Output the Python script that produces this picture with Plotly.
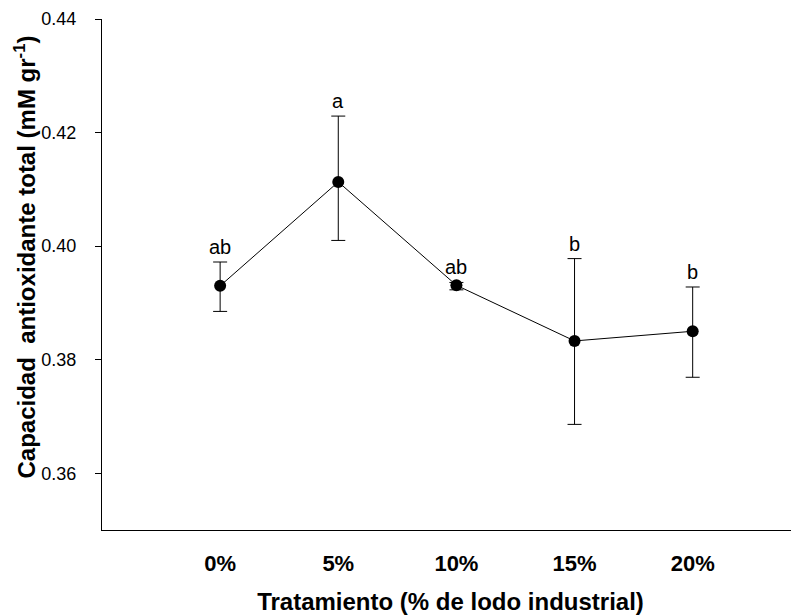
import plotly.graph_objects as go

categories = ["0%", "5%", "10%", "15%", "20%"]
means = [0.3930, 0.4113, 0.3931, 0.3833, 0.3850]
err_plus = [0.0042, 0.0116, 0.0005, 0.0145, 0.0078]
err_minus = [0.0045, 0.0103, 0.0008, 0.0147, 0.0081]
letters = ["ab", "a", "ab", "b", "b"]
y_ticks = [0.36, 0.38, 0.40, 0.42, 0.44]
y_title = "<b>Capacidad  antioxidante total (mM gr<sup>-1</sup>)</b>"
x_title = "<b>Tratamiento (% de lodo industrial)</b>"

x_idx = list(range(len(categories)))

fig = go.Figure()
fig.add_trace(go.Scatter(
    x=x_idx, y=means, mode="lines+markers",
    line=dict(color="black", width=1),
    marker=dict(color="black", size=12),
    error_y=dict(type="data", symmetric=False, array=err_plus, arrayminus=err_minus,
                 color="black", thickness=1, width=7),
    showlegend=False,
))

for xi, m, ep, lab in zip(x_idx, means, err_plus, letters):
    fig.add_annotation(x=xi, y=m + ep, text=lab, showarrow=False,
                       yanchor="bottom", yshift=2,
                       font=dict(family="Arial", size=20, color="black"))

# y-axis title as a rotated annotation (sits slightly above the plot centre)
fig.add_annotation(xref="paper", yref="paper", x=0, y=0.5, xshift=-78, yshift=17,
                   text=y_title, textangle=-90, showarrow=False,
                   xanchor="center", yanchor="middle",
                   font=dict(family="Arial", size=24, color="black"))

# page body adds an 8px offset, so the figure is sized to fit the window
fig.update_layout(
    width=791, height=607,
    margin=dict(l=94, r=0, t=11, b=85),
    plot_bgcolor="white", paper_bgcolor="white",
    font=dict(family="Arial", color="black"),
)
fig.update_xaxes(
    range=[-1, 4.9], tickvals=x_idx, ticktext=categories, automargin=False,
    showline=True, linecolor="black", linewidth=1, showgrid=False, zeroline=False,
    ticks="", tickfont=dict(family="Arial", size=22, color="black", weight="bold"),
    ticklabelstandoff=14,
    title=dict(text=x_title, font=dict(family="Arial", size=24, color="black"), standoff=19),
)
fig.update_yaxes(
    range=[0.35, 0.44], tickvals=y_ticks, tickformat=".2f", automargin=False,
    showline=True, linecolor="black", linewidth=1, showgrid=False, zeroline=False,
    ticks="outside", ticklen=6, tickwidth=1, tickcolor="black",
    tickfont=dict(family="Arial", size=18, color="black"),
    ticklabelstandoff=15,
)

fig.write_html("out.html")
